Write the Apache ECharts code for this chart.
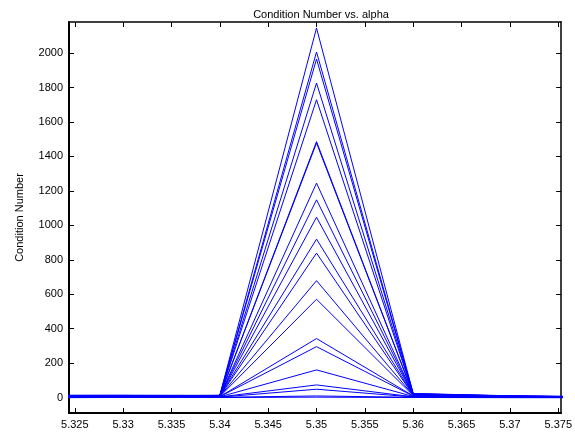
<!DOCTYPE html>
<html>
<head>
<meta charset="utf-8">
<script src="https://cdn.jsdelivr.net/npm/echarts@6/dist/echarts.min.js"></script>
<style>
html,body{margin:0;padding:0;background:#fff;}
#c{width:575px;height:432px;}
</style>
</head>
<body>
<div id="c"></div>
<script>
// alpha sample points
var alpha = [5.32, 5.33, 5.34, 5.35, 5.36, 5.37, 5.38];
// per-series values at each alpha
var valAt532 = [12, 2, 9, 4, 14, 0, 7, 11, 3, 13, 5, 10, 1, 8, 6, 12, 2, 9, 4, 0, 6];
var valAt533 = [13, 3, 10, 5, 14, 1, 8, 12, 4, 13, 6, 11, 2, 9, 7, 12, 3, 10, 5, 1, 7];
var valAt534 = [14, 13, 13, 12, 12, 11, 11, 10, 10, 9, 9, 8, 8, 7, 6, 6, 5, 4, 3, 2, 1];
var peakVals = [2145, 2006, 1965, 1826, 1729, 1486, 1478, 1245, 1148, 1047, 920, 839, 679, 571, 343, 296, 161, 74, 49, 10, 3];
var valAt536 = [24, 23, 22, 21, 20, 19, 19, 18, 17, 16, 15, 14, 13, 12, 10, 9, 7, 5, 4, 2, 1];
var valAt537 = [11, 10, 10, 9, 9, 8, 8, 7, 7, 6, 6, 5, 5, 4, 4, 3, 3, 2, 2, 1, 0];
var valAt538 = [5, 5, 4, 4, 4, 3, 3, 3, 3, 2, 2, 2, 2, 1, 1, 1, 1, 1, 0, 0, 0];

var xTicks = [5.325, 5.33, 5.335, 5.34, 5.345, 5.35, 5.355, 5.36, 5.365, 5.37, 5.375];
var xTickLabels = ['5.325', '5.33', '5.335', '5.34', '5.345', '5.35', '5.355', '5.36', '5.365', '5.37', '5.375'];
var yTicks = [0, 200, 400, 600, 800, 1000, 1200, 1400, 1600, 1800, 2000];

var titleText = 'Condition Number vs. alpha';
var yName = 'Condition Number';

var FONT = 'Liberation Sans';
var series = [];
for (var i = 0; i < peakVals.length; i++) {
  var cols = [valAt532[i], valAt533[i], valAt534[i], peakVals[i], valAt536[i], valAt537[i], valAt538[i]];
  var d = [];
  for (var j = 0; j < alpha.length; j++) d.push([alpha[j], cols[j]]);
  series.push({
    type: 'line', data: d, showSymbol: false, symbol: 'none', clip: true,
    lineStyle: {color: '#0000ff', width: 1}, itemStyle: {color: '#0000ff'},
    xAxisIndex: 0, yAxisIndex: 0, animation: false, silent: true
  });
}

function xFmt(v) {
  var best = 0, bd = 1e9;
  for (var k = 0; k < xTicks.length; k++) {
    var dd = Math.abs(xTicks[k] - v);
    if (dd < bd) { bd = dd; best = k; }
  }
  return xTickLabels[best];
}
function yFmt(v) { return String(Math.round(v)); }

var XMIN = 5.3244, XMAX = 5.3753, YMIN = -89, YMAX = 2180;
var chart = echarts.init(document.getElementById('c'), null, {renderer: 'canvas'});
chart.setOption({
  backgroundColor: '#fff',
  animation: false,
  title: {
    text: titleText, left: 316, top: 4, textAlign: 'center',
    textStyle: {fontFamily: FONT, fontSize: 11, fontWeight: 'normal', color: '#000'}
  },
  grid: {left: 69, right: 11, top: 22, bottom: 19, containLabel: false},
  xAxis: [{
    type: 'value', min: XMIN, max: XMAX, position: 'bottom',
    axisLine: {show: true, onZero: false, lineStyle: {color: '#000', width: 2}},
    axisTick: {show: true, inside: true, length: 5, customValues: xTicks, lineStyle: {color: '#000', width: 1}},
    axisLabel: {show: true, customValues: xTicks, formatter: xFmt, margin: 6,
      fontFamily: FONT, fontSize: 11, color: '#000'},
    splitLine: {show: false}
  }, {
    type: 'value', min: XMIN, max: XMAX, position: 'top',
    axisLine: {show: true, onZero: false, lineStyle: {color: '#000', width: 1.5}},
    axisTick: {show: true, inside: true, length: 5, customValues: xTicks, lineStyle: {color: '#000', width: 1}},
    axisLabel: {show: false},
    splitLine: {show: false}
  }],
  yAxis: [{
    type: 'value', min: YMIN, max: YMAX, position: 'left',
    name: yName, nameLocation: 'middle', nameGap: 44, nameRotate: 90,
    nameTextStyle: {fontFamily: FONT, fontSize: 11, color: '#000'},
    axisLine: {show: true, onZero: false, lineStyle: {color: '#000', width: 2}},
    axisTick: {show: true, inside: true, length: 5, customValues: yTicks, lineStyle: {color: '#000', width: 1}},
    axisLabel: {show: true, customValues: yTicks, formatter: yFmt, margin: 6,
      fontFamily: FONT, fontSize: 11, color: '#000'},
    splitLine: {show: false}
  }, {
    type: 'value', min: YMIN, max: YMAX, position: 'right',
    axisLine: {show: true, onZero: false, lineStyle: {color: '#000', width: 1.5}},
    axisTick: {show: true, inside: true, length: 5, customValues: yTicks, lineStyle: {color: '#000', width: 1}},
    axisLabel: {show: false},
    splitLine: {show: false}
  }],
  series: series
});
</script>
</body>
</html>
